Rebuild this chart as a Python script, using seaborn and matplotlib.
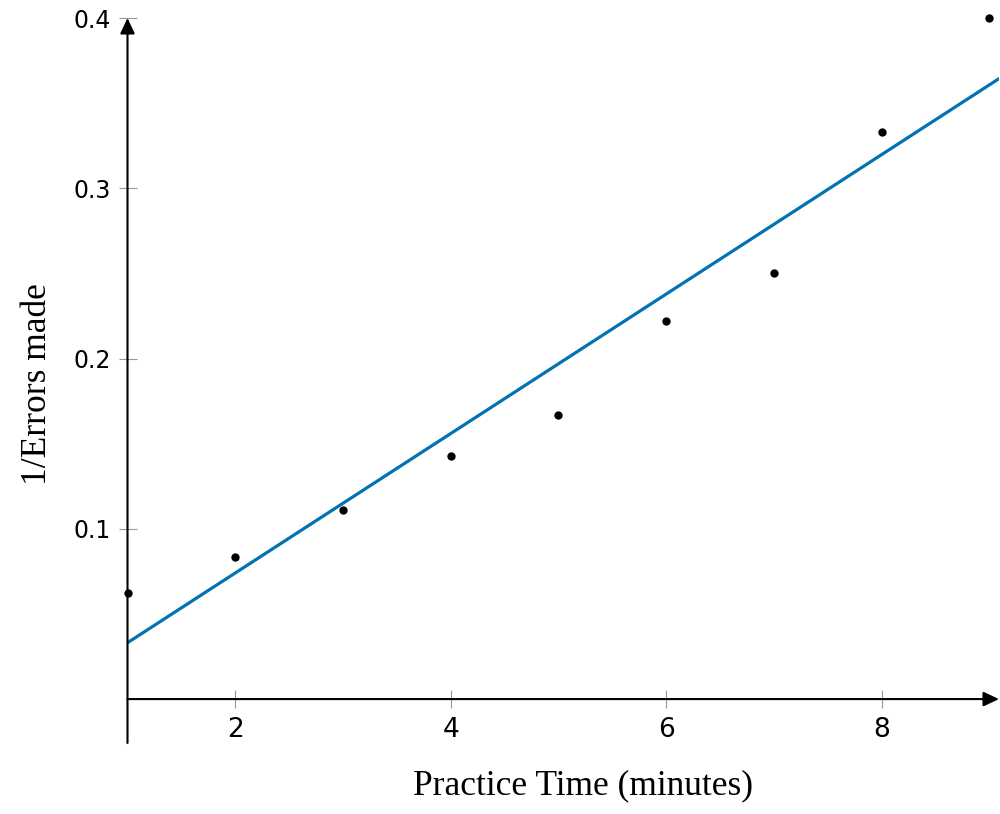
import numpy as np
import pandas as pd
import matplotlib
matplotlib.use("Agg")
import matplotlib.pyplot as plt
import seaborn as sns

# ---- data ----
practice_time = [1, 2, 3, 4, 5, 6, 7, 8, 9]
inv_errors = [0.0625, 0.0833, 0.1111, 0.1429, 0.1667, 0.2222, 0.25, 0.3333, 0.4]
x_ticks = [2, 4, 6, 8]
y_ticks = [0.1, 0.2, 0.3, 0.4]
x_label = "Practice Time (minutes)"
y_label = "1/Errors made"

df = pd.DataFrame({"x": practice_time, "y": inv_errors})

sns.set_style("white")
plt.rcParams["font.family"] = ["DejaVu Sans"]
plt.rcParams["text.color"] = "black"
plt.rcParams["axes.labelcolor"] = "black"

fig = plt.figure(figsize=(10, 8.14), dpi=100)
ax = fig.add_axes([0.1275, 1 - 743 / 814, 0.8715, (743 - 18) / 814])
ax.set_xlim(1, 9.09)
ax.set_ylim(-0.0258, 0.4)

sns.regplot(data=df, x="x", y="y", ax=ax, ci=None, truncate=False,
            scatter_kws=dict(s=36, color="black", alpha=1, linewidths=0,
                             zorder=4, clip_on=False),
            line_kws=dict(color="#0173B2", lw=2.3, zorder=3))

ax.set_xlim(1, 9.09)
ax.set_ylim(-0.0258, 0.4)

for sp in ax.spines.values():
    sp.set_visible(False)

# axis lines with arrows
arrow_kw = dict(arrowstyle="-|>,head_length=0.47,head_width=0.22", lw=1.5,
                color="black", shrinkA=0, shrinkB=0, mutation_scale=20)
ax.annotate("", xy=(1, 0), xytext=(0, 0), xycoords=ax.get_yaxis_transform(),
            textcoords=ax.get_yaxis_transform(), arrowprops=arrow_kw,
            annotation_clip=False)
ax.annotate("", xy=(0, 1), xytext=(0, 0), xycoords=ax.transAxes,
            textcoords=ax.transAxes, arrowprops=arrow_kw,
            annotation_clip=False)

ax.set_xticks(x_ticks)
ax.set_xticklabels([str(t) for t in x_ticks])
ax.set_yticks(y_ticks)
ax.set_yticklabels([f"{t:.1f}" for t in y_ticks])

ax.xaxis.set_ticks_position("bottom")
ax.yaxis.set_ticks_position("left")
ax.tick_params(axis="both", direction="inout", length=13.5, width=0.8,
               color="#999999", labelcolor="black")
ax.tick_params(axis="x", pad=6, labelsize=19)
ax.tick_params(axis="y", pad=5, labelsize=17)

# x ticks at data y=0
ax.spines["bottom"].set_position(("data", 0))
ax.spines["bottom"].set_visible(False)

ax.set_xlabel(x_label, family=["Liberation Serif"], fontsize=25.5, color="black")
ax.xaxis.label.set_va("center")
ax.xaxis.set_label_coords((582.5 - 127.5) / 871.5, (743 - 786) / 725)
ax.set_ylabel(y_label, family=["Liberation Serif"], fontsize=25.5, color="black")
ax.yaxis.label.set_va("center")
ax.yaxis.set_label_coords((38 - 127.5) / 871.5, (743 - 384) / 725)

fig.savefig("out.png", dpi=100)
